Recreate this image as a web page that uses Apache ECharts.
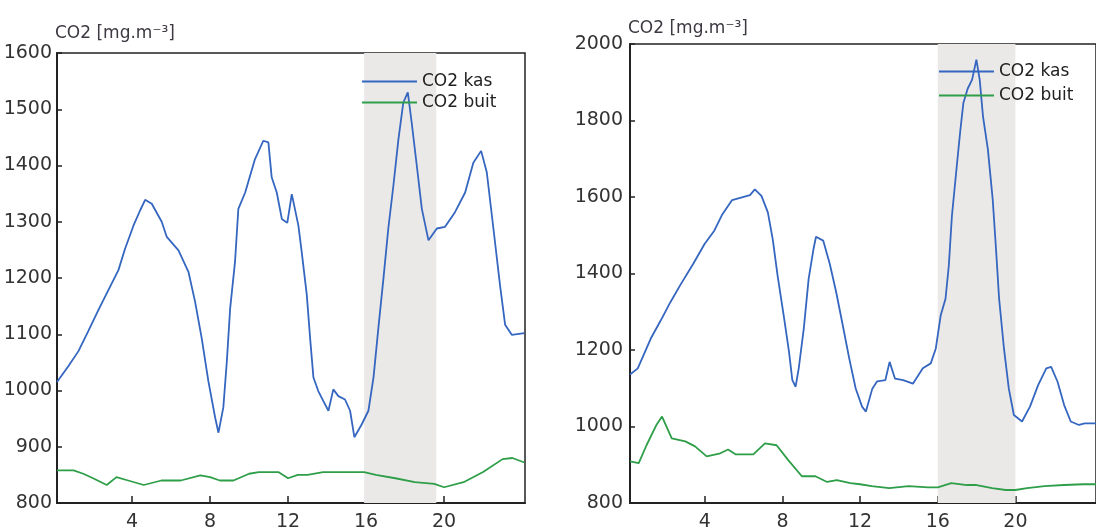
<!DOCTYPE html>
<html>
<head>
<meta charset="utf-8">
<script src="https://cdn.jsdelivr.net/npm/echarts@6/dist/echarts.min.js"></script>
<style>html,body{margin:0;padding:0;background:#fff}#c{width:1096px;height:532px}</style>
</head>
<body>
<div id="c"></div>
<script>
// ---- Data (hours of day, CO2 mg/m3) ----
const xTicks = [4, 8, 12, 16, 20];
const axisName = 'CO2 [mg.m\u207B\u00B3]';
const seriesNames = ['CO2 kas', 'CO2 buit'];

// Left panel
const leftKasHours = [0.15,0.73,1.25,1.76,2.27,2.79,3.3,3.64,4.07,4.41,4.67,5.01,5.52,5.78,6.38,6.89,7.23,7.57,7.91,8.26,8.43,8.68,8.86,9.03,9.28,9.45,9.8,10.3,10.73,10.99,11.16,11.42,11.68,11.96,12.19,12.27,12.53,12.7,12.96,13.13,13.3,13.55,13.81,14.07,14.32,14.58,14.92,15.18,15.4,15.78,16.12,16.38,16.63,16.89,17.14,17.4,17.66,17.91,18.14,18.34,18.6,18.86,19.2,19.63,20.05,20.56,21.08,21.5,21.9,22.19,22.53,22.87,23.13,23.47,24.12];
const leftKasValues = [1015,1043,1070,1106,1143,1179,1214,1252,1293,1320,1339,1332,1300,1273,1249,1211,1158,1093,1017,952,925,970,1052,1146,1229,1323,1352,1411,1444,1441,1379,1352,1305,1298,1349,1349,1293,1246,1170,1093,1023,999,981,964,1002,990,984,964,917,940,964,1023,1111,1199,1288,1364,1447,1512,1530,1476,1400,1323,1267,1288,1291,1317,1352,1405,1426,1388,1288,1187,1117,1099,1102];
const leftBuitHours = [0.15,1.0,1.5,2.0,2.7,3.2,3.8,4.6,5.5,6.5,7.5,8.0,8.5,9.2,10.0,10.5,11.5,12.0,12.5,13.0,13.8,14.8,15.9,16.5,17.5,18.5,19.5,20.0,21.0,22.0,23.0,23.5,24.12];
const leftBuitValues = [858,858,852,844,832,846,840,832,840,840,849,846,840,840,852,855,855,844,850,850,855,855,855,850,844,837,834,828,837,855,878,880,872];

// Right panel
const rightKasHours = [0.15,0.55,1.22,1.73,2.23,2.73,3.4,3.99,4.49,4.91,5.41,5.91,6.33,6.58,6.92,7.25,7.5,7.75,8.09,8.34,8.51,8.68,8.84,9.1,9.35,9.6,9.73,10.1,10.44,10.77,11.11,11.44,11.77,12.1,12.3,12.63,12.88,13.3,13.52,13.8,14.22,14.72,15.23,15.64,15.9,16.15,16.4,16.57,16.73,16.98,17.15,17.32,17.54,17.77,17.99,18.16,18.33,18.58,18.83,19.0,19.16,19.41,19.66,19.92,20.34,20.75,21.17,21.59,21.84,22.17,22.51,22.85,23.27,23.57,24.15];
const rightKasValues = [1136,1152,1230,1277,1325,1369,1425,1477,1512,1555,1592,1599,1605,1620,1603,1560,1490,1395,1282,1195,1121,1104,1152,1256,1386,1464,1496,1486,1425,1351,1264,1178,1100,1052,1039,1099,1118,1121,1169,1125,1121,1112,1152,1165,1204,1290,1334,1421,1551,1681,1768,1846,1883,1907,1959,1907,1811,1725,1594,1464,1334,1204,1099,1030,1013,1052,1108,1152,1156,1117,1056,1013,1004,1008,1008];
const rightBuitHours = [0.15,0.6,1.0,1.5,1.8,2.3,3.0,3.5,4.1,4.8,5.2,5.6,6.5,7.1,7.7,8.3,9.0,9.7,10.3,10.8,11.5,12.0,12.6,13.5,14.5,15.5,16.0,16.7,17.5,18.0,18.8,19.5,20.0,20.6,21.5,22.5,23.5,24.15];
const rightBuitValues = [909,904,951,1003,1026,969,961,948,922,930,940,927,927,956,951,912,870,870,855,860,852,849,844,839,844,841,841,852,847,847,839,834,834,839,844,847,849,849];

const leftShade = [15.9, 19.6];
const rightShade = [16.0, 20.0];

const zip = (h, v) => h.map((x, i) => [x, v[i]]);

const FONT = 'DejaVu Sans';
const BLUE = '#3566c0';
const GREEN = '#2e9e48';
const DARK = '#222';

function xAxisCfg(grid) {
  return {
    type: 'value', gridIndex: grid, min: 0.15, max: 24.15,
    axisLine: { show: true, onZero: false, lineStyle: { color: DARK, width: 2 } },
    axisTick: { show: true, inside: true, length: 7, customValues: xTicks, lineStyle: { color: DARK, width: 1.5 } },
    axisLabel: { customValues: xTicks, margin: 10, color: '#333', fontSize: 19, fontFamily: FONT },
    splitLine: { show: false }
  };
}
function yAxisCfg(grid, min, max, interval, margin, gap) {
  return {
    type: 'value', gridIndex: grid, min: min, max: max, interval: interval,
    name: axisName, nameLocation: 'end', nameGap: gap,
    nameTextStyle: { align: 'left', color: '#3d3842', fontSize: 17, fontFamily: FONT, padding: [0, 0, 0, -2] },
    axisLine: { show: true, lineStyle: { color: DARK, width: 2 } },
    axisTick: { show: true, inside: true, length: 5, lineStyle: { color: DARK, width: 1.5 } },
    axisLabel: { margin: margin, color: '#333', fontSize: 19, fontFamily: FONT, formatter: v => String(v) },
    splitLine: { show: false }
  };
}
function lineSeries(name, data, color, xi, shade) {
  const s = {
    name: name, type: 'line', xAxisIndex: xi, yAxisIndex: xi, data: data,
    symbol: 'none', smooth: false, animation: false,
    lineStyle: { color: color, width: 1.8 }, itemStyle: { color: color }
  };
  if (shade) {
    s.markArea = { silent: true, itemStyle: { color: '#ebe9e8', opacity: 1 },
      data: [[{ xAxis: shade[0] }, { xAxis: shade[1] }]] };
  }
  return s;
}
function legendCfg(left, top, gap) {
  return {
    left: left, top: top, orient: 'vertical', icon: 'rect', itemWidth: 55, itemHeight: 2, itemGap: gap,
    data: seriesNames, selectedMode: false, padding: 0,
    textStyle: { color: DARK, fontSize: 17, fontFamily: FONT }
  };
}

const chart = echarts.init(document.getElementById('c'), null, { renderer: 'canvas' });
chart.setOption({
  animation: false,
  backgroundColor: '#fff',
  grid: [
    { left: 57, top: 53, width: 468, height: 453, show: true, borderColor: DARK, borderWidth: 1.5 },
    { left: 630, top: 44, width: 478, height: 461, show: true, borderColor: DARK, borderWidth: 1.5 }
  ],
  xAxis: [xAxisCfg(0), xAxisCfg(1)],
  yAxis: [yAxisCfg(0, 800, 1600, 100, 5, 11), yAxisCfg(1, 800, 2000, 200, 7, 7)],
  legend: [legendCfg(362, 73, 4), legendCfg(939, 63, 7)],
  series: [
    lineSeries('CO2 kas', zip(leftKasHours, leftKasValues), BLUE, 0, leftShade),
    lineSeries('CO2 buit', zip(leftBuitHours, leftBuitValues), GREEN, 0),
    lineSeries('CO2 kas', zip(rightKasHours, rightKasValues), BLUE, 1, rightShade),
    lineSeries('CO2 buit', zip(rightBuitHours, rightBuitValues), GREEN, 1)
  ]
});
</script>
</body>
</html>
